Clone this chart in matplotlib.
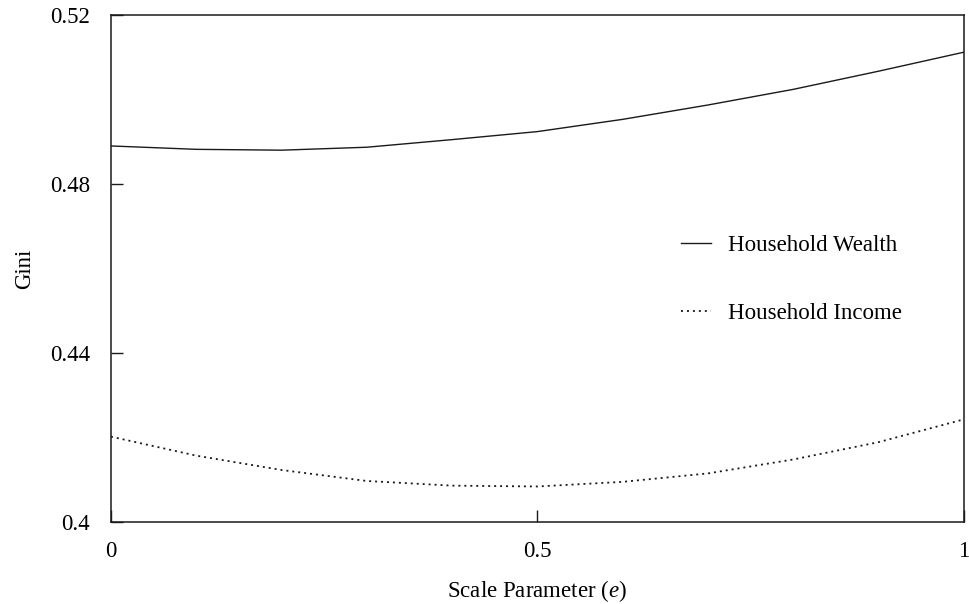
import numpy as np
import matplotlib
matplotlib.use("Agg")
import matplotlib.pyplot as plt

plt.rcParams['font.family'] = ['Liberation Serif', 'DejaVu Serif']
plt.rcParams['mathtext.fontset'] = 'custom'
plt.rcParams['mathtext.rm'] = 'Liberation Serif'
plt.rcParams['mathtext.it'] = 'Liberation Serif:italic'

# scale parameter e
scale_e = [0.0, 0.1, 0.2, 0.3, 0.4, 0.5, 0.6, 0.7, 0.8, 0.9, 1.0]
# Gini of household wealth / income
gini_wealth = [0.4890, 0.4882, 0.4880, 0.4887, 0.4905, 0.4924, 0.4953, 0.4987, 0.5024, 0.5067, 0.5112]
gini_income = [0.4202, 0.4157, 0.4123, 0.4097, 0.4086, 0.4084, 0.4095, 0.4115, 0.4148, 0.4189, 0.4243]

yticks = [0.4, 0.44, 0.48, 0.52]
ytick_labels = ['0.4', '0.44', '0.48', '0.52']
xticks = [0, 0.5, 1]
xtick_labels = ['0', '0.5', '1']

fig = plt.figure(figsize=(9.7, 6.04), dpi=100)
ax = fig.add_axes([0.1144, 0.1358, 0.8794, 0.8394])

ax.plot(scale_e, gini_wealth, color='#1a1a1a', lw=1.0, ls='-', label='Household Wealth')
ax.plot(scale_e, gini_income, color='#1a1a1a', lw=1.3, ls=(0, (1.1, 2.2)), label='Household Income')

ax.set_xlim(0, 1)
ax.set_ylim(0.4, 0.52)
ax.set_xticks(xticks)
ax.set_xticklabels(xtick_labels)
ax.set_yticks(yticks)
ax.set_yticklabels(ytick_labels)
ax.tick_params(direction='in', length=8.5, width=1.0, labelsize=16.5,
               top=False, right=False, color='#1a1a1a')
ax.tick_params(axis='y', pad=15)
ax.tick_params(axis='x', pad=13.5)
for sp in ax.spines.values():
    sp.set_linewidth(1.1)
    sp.set_color('#1a1a1a')

ax.set_ylabel('Gini', fontsize=16.5, labelpad=11)
ax.set_xlabel('Scale Parameter ($\\mathit{e}$)', fontsize=16.5, labelpad=12)

ax.legend(loc='upper left', bbox_to_anchor=(0.668, 0.566), frameon=False, fontsize=16.5,
          handlelength=1.3, handletextpad=0.75, labelspacing=2.05,
          borderpad=0, borderaxespad=0)

plt.savefig('out.png', dpi=100)
